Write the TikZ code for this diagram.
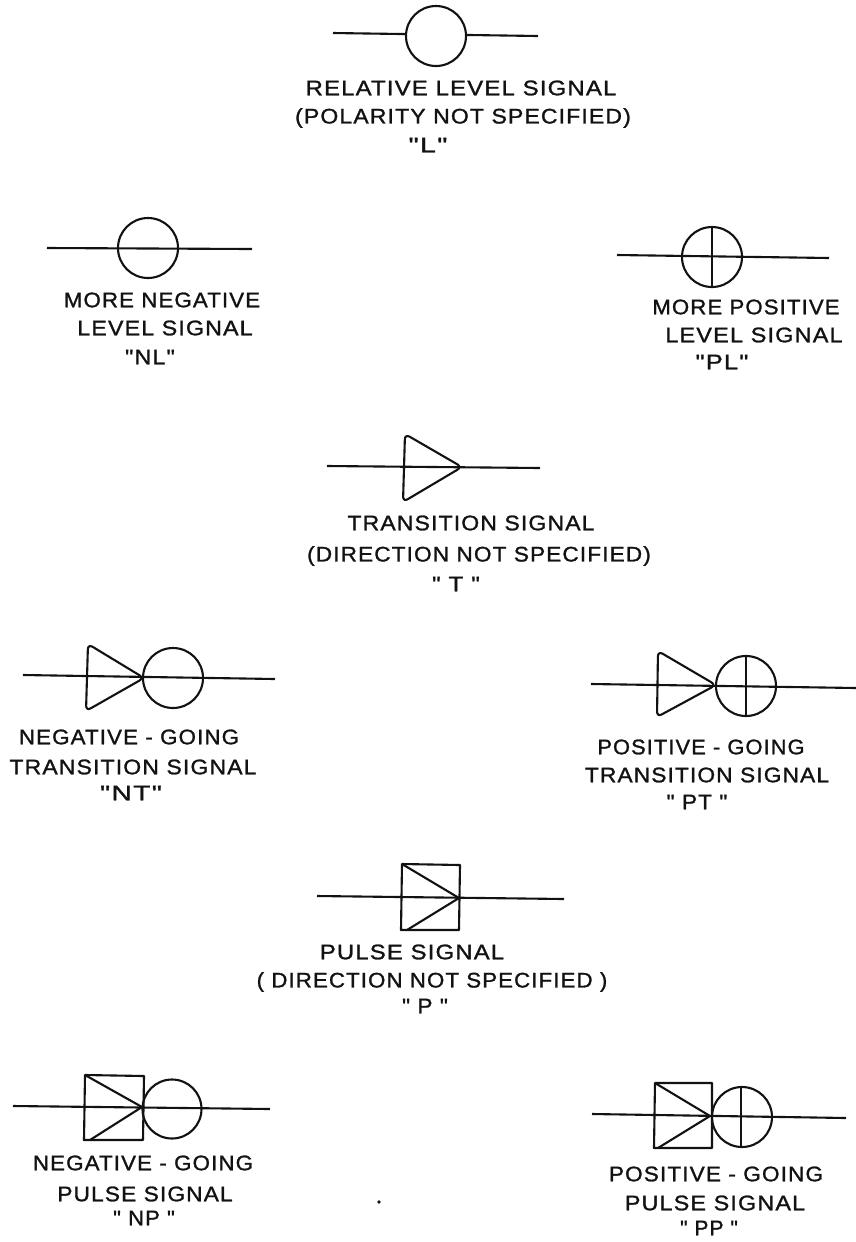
\documentclass[tikz,border=0pt]{standalone}
\usepackage{fontspec}
\usepackage{graphicx}
\newfontfamily\siglabelfont{Liberation Sans}[LetterSpace=5,FakeBold=1.2]
\usepackage{xcolor}
\usepackage{tikz}
\definecolor{inkblack}{RGB}{18, 18, 18}
\newdimen\sigpx
\sigpx=0.5669pt
% one label line, stretched to a given width in pixels
\newcommand{\sigtext}[2]{\resizebox{#1\sigpx}{\height}{#2}}
\tikzset{
  sigline/.style={inkblack, line width=1.2pt},
  sigmark/.style={inkblack, line width=1.2pt, line join=round},
  siglabel/.style={inkblack, font=\siglabelfont\fontsize{12}{14}\selectfont, inner sep=0pt, anchor=center}
}

\begin{document}
\begin{tikzpicture}[x=0.02cm, y=-0.02cm]
    \useasboundingbox (0,0) rectangle (856,1242);

    % Relative level signal
    \draw[sigline] (333,33) -- (538,36);
    \draw[sigmark, fill=white] (436,36) circle (30);
    \node[siglabel] (relA) at (461,88) {\sigtext{312}{RELATIVE LEVEL SIGNAL}};
    \node[siglabel] (relB) at (463,118) {\sigtext{337}{(POLARITY NOT SPECIFIED)}};
    \node[siglabel] (relC) at (428,145) {\sigtext{39}{"L"}};

    % More negative level
    \draw[sigline] (47,248) -- (252,249);
    \draw[sigmark] (148,248) circle (30);
    \node[siglabel] (negA) at (162,300) {\sigtext{197}{MORE NEGATIVE}};
    \node[siglabel] (negB) at (165,328) {\sigtext{176}{LEVEL SIGNAL}};
    \node[siglabel] (negC) at (150,357) {\sigtext{50}{"NL"}};

    % More positive level
    \draw[sigline] (617,255) -- (829,258);
    \draw[sigmark] (712,257) circle (30);
    \draw[sigmark] (712,227) -- (712,287);
    \node[siglabel] (posA) at (746,307) {\sigtext{188}{MORE POSITIVE}};
    \node[siglabel] (posB) at (754,335) {\sigtext{178}{LEVEL SIGNAL}};
    \node[siglabel] (posC) at (722,362) {\sigtext{53}{"PL"}};

    % Transition signal
    \draw[sigline] (327,466) -- (540,468);
    \draw[sigmark, rounded corners=3] (405,434) -- (462,467) -- (403,502) -- cycle;
    \node[siglabel] (traA) at (471,523) {\sigtext{248}{TRANSITION SIGNAL}};
    \node[siglabel] (traB) at (479,556) {\sigtext{345}{(DIRECTION NOT SPECIFIED)}};
    \node[siglabel] (traC) at (456,584) {\sigtext{48}{" T "}};

    % Negative-going transition
    \draw[sigline] (23,675) -- (275,679);
    \draw[sigmark, rounded corners=3] (88,644) -- (144,678) -- (86,711) -- cycle;
    \draw[sigmark] (173,678) circle (30);
    \node[siglabel] (ntrA) at (129,737) {\sigtext{221}{NEGATIVE - GOING}};
    \node[siglabel] (ntrB) at (133,767) {\sigtext{248}{TRANSITION SIGNAL}};
    \node[siglabel] (ntrC) at (131,793) {\sigtext{62}{"NT"}};

    % Positive-going transition
    \draw[sigline] (591,684) -- (856,688);
    \draw[sigmark, rounded corners=3] (658,651) -- (716,685) -- (657,717) -- cycle;
    \draw[sigmark] (746,686) circle (30);
    \draw[sigmark] (746,656) -- (746,716);
    \node[siglabel] (ptrA) at (701,747) {\sigtext{208}{POSITIVE - GOING}};
    \node[siglabel] (ptrB) at (707,775) {\sigtext{245}{TRANSITION SIGNAL}};
    \node[siglabel] (ptrC) at (697,802) {\sigtext{61}{" PT "}};

    % Pulse signal
    \draw[sigline] (317,896) -- (564,899);
    \draw[sigmark] (402,864) -- (460,865) -- (459,930) -- (401,930) -- cycle;
    \draw[sigmark] (402,864) -- (459,898) -- (407,930);
    \node[siglabel] (pulA) at (412,952) {\sigtext{185}{PULSE SIGNAL}};
    \node[siglabel] (pulB) at (432,982) {\sigtext{352}{( DIRECTION NOT SPECIFIED )}};
    \node[siglabel] (pulC) at (425,1006) {\sigtext{46}{" P "}};

    % Negative-going pulse
    \draw[sigline] (13,1106) -- (270,1109);
    \draw[sigmark] (85,1075) -- (144,1076) -- (143,1140) -- (84,1140) -- cycle;
    \draw[sigmark] (85,1075) -- (142,1107) -- (90,1140);
    \draw[sigmark] (172,1109) circle (29.5);
    \node[siglabel] (npuA) at (143,1163) {\sigtext{221}{NEGATIVE - GOING}};
    \node[siglabel] (npuB) at (145,1194) {\sigtext{176}{PULSE SIGNAL}};
    \node[siglabel] (npuC) at (144,1218) {\sigtext{62}{" NP "}};

    % Positive-going pulse
    \draw[sigline] (592,1114) -- (846,1118);
    \draw[sigmark] (655,1083) -- (712,1083) -- (712,1148) -- (654,1148) -- cycle;
    \draw[sigmark] (655,1083) -- (710,1116) -- (658,1148);
    \draw[sigmark] (742,1117) circle (30);
    \draw[sigmark] (741,1087) -- (741,1147);
    \node[siglabel] (ppuA) at (716,1174) {\sigtext{215}{POSITIVE - GOING}};
    \node[siglabel] (ppuB) at (715,1203) {\sigtext{181}{PULSE SIGNAL}};
    \node[siglabel] (ppuC) at (709,1228) {\sigtext{58}{" PP "}};

    % Stray dot
    \fill[inkblack] (379,1202) circle (1.8);
\end{tikzpicture}
\end{document}
